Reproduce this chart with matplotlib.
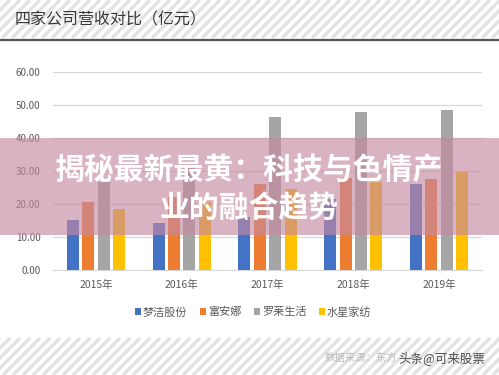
import numpy as np
import matplotlib
matplotlib.use('Agg')
import matplotlib.pyplot as plt
from matplotlib.patches import Rectangle

plt.rcParams['font.family'] = ['Noto Sans CJK SC', 'DejaVu Sans']

# 数据（亿元）
years = ['2015年', '2016年', '2017年', '2018年', '2019年']
companies = ['梦洁股份', '富安娜', '罗莱生活', '水星家纺']
mengjie = [15.2, 14.2, 16.0, 21.5, 26.0]
fuanna = [20.6, 22.0, 26.0, 27.8, 27.7]
luolai = [26.8, 31.5, 46.5, 47.8, 48.5]
shuixing = [18.5, 20.5, 24.4, 26.8, 29.8]
yticks = [0, 10, 20, 30, 40, 50, 60]

colors = ['#4472C4', '#ED7D31', '#A5A5A5', '#FFC000']
W, H = 499, 375

fig = plt.figure(figsize=(W / 100, H / 100), dpi=100)

# 背景：页眉/页脚斜纹
bg = fig.add_axes([0, 0, 1, 1], zorder=-1)
bg.set_xlim(0, W)
bg.set_ylim(H, 0)
bg.axis('off')


def stripes(y0, y1, step=10):
    h = y1 - y0
    for x0 in np.arange(-h - 10, W + 10, step):
        bg.plot([x0, x0 + h], [y1, y0], color='#e2e2e2', lw=2.4,
                solid_capstyle='butt', clip_on=True)


stripes(0, 38)
stripes(338, H)
bg.plot([0, W], [39.5, 39.5], color='#555555', lw=1.6)

fig.text(15 / W, 1 - 20 / H, '四家公司营收对比（亿元）', fontsize=11.5,
         color='#383838', ha='left', va='center')

# 主图
ax = fig.add_axes([53 / W, 1 - 270 / H, 429 / W, 198 / H])
x = np.arange(len(years))
bw = 0.14
step = 0.18
series = [mengjie, fuanna, luolai, shuixing]
for i, (vals, name) in enumerate(zip(series, companies)):
    ax.bar(x + (i - 1.5) * step, vals, width=bw, color=colors[i], label=name, zorder=3)

ax.set_xlim(-0.5, len(years) - 0.5)
ax.set_ylim(0, 60)
ax.set_yticks(yticks)
ax.set_yticklabels(['%.2f' % v for v in yticks])
ax.set_xticks(x)
ax.set_xticklabels(years)
ax.grid(axis='y', color='#d9d9d9', lw=0.9, zorder=0)
for s in ['top', 'right', 'left']:
    ax.spines[s].set_visible(False)
ax.spines['bottom'].set_color('#d9d9d9')
ax.tick_params(axis='y', length=0, pad=9, labelsize=7, labelcolor='#595959')
ax.tick_params(axis='x', length=0, pad=7, labelsize=7.5, labelcolor='#595959')

fig.legend(loc='center', bbox_to_anchor=(253 / W, 1 - 312 / H), ncol=4,
           frameon=False, fontsize=8, labelcolor='#595959',
           handlelength=0.55, handleheight=0.55, handletextpad=0.2,
           columnspacing=1.1)

# 粉色横幅
fig.add_artist(Rectangle((0, 1 - 235 / H), 1, 97 / H, transform=fig.transFigure,
                         facecolor=(197 / 255, 138 / 255, 160 / 255), alpha=0.65,
                         edgecolor='none', zorder=5))
fig.text(249.5 / W, 1 - 170 / H, '揭秘最新最黄：科技与色情产', fontsize=21.5,
         fontweight='heavy', color='white', ha='center', va='center', zorder=6)
fig.text(249.5 / W, 1 - 208 / H, '业的融合趋势', fontsize=21.5,
         fontweight='heavy', color='white', ha='center', va='center', zorder=6)

# 水印
fig.text(325 / W, 1 - 358 / H, '数据来源：东方', fontsize=7.5, color='#bbbbbb',
         ha='left', va='center')
fig.text(398 / W, 1 - 358 / H, '头条@可来股票', fontsize=9, color='#505050',
         ha='left', va='center')

fig.savefig('out.png', dpi=100)
